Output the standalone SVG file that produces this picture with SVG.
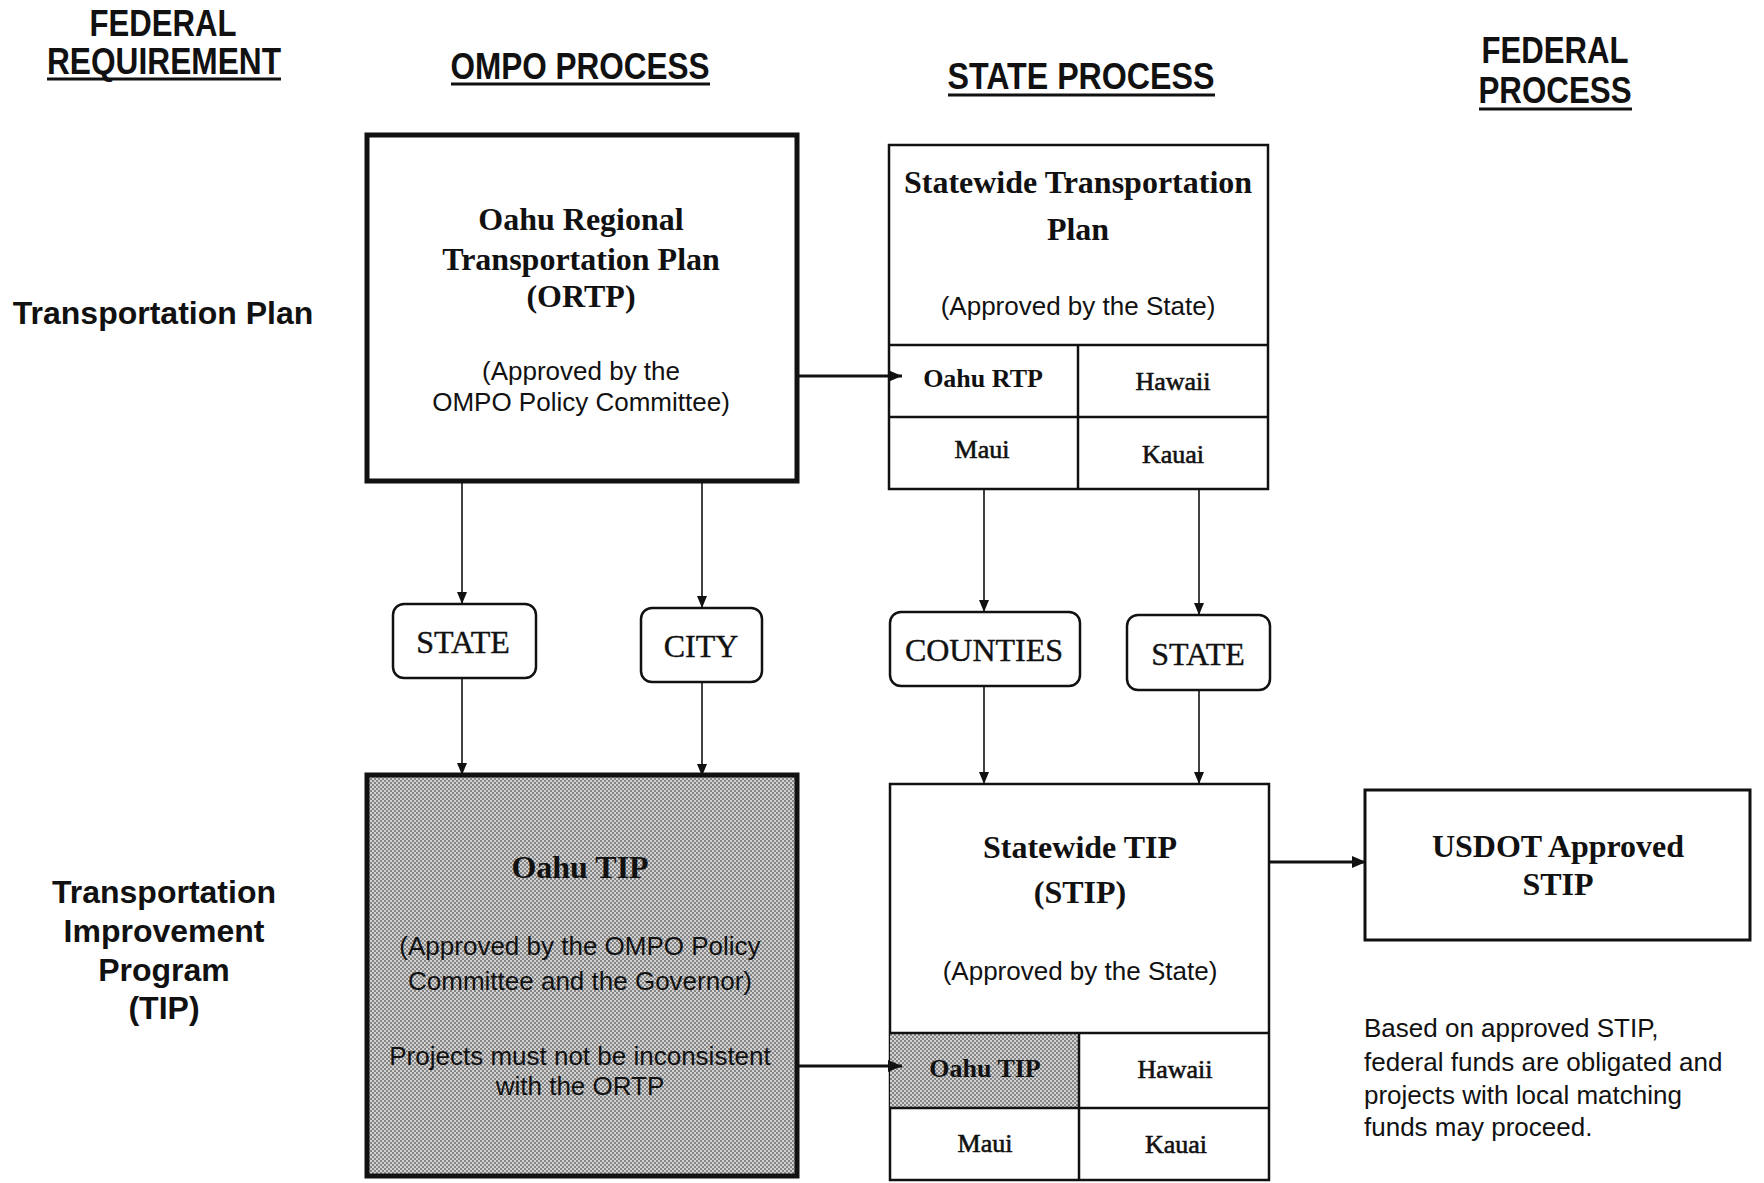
<svg xmlns="http://www.w3.org/2000/svg" width="1764" height="1183" viewBox="0 0 1764 1183">
<style>
.hdr{font-family:"Liberation Sans",Arial,sans-serif;font-weight:bold;font-size:37px;fill:#111;text-anchor:middle}
.ul{stroke:#111;stroke-width:3}
.lbl{font-family:"Liberation Sans",Arial,sans-serif;font-weight:bold;font-size:32px;fill:#111;text-anchor:middle}
.ttl{font-family:"Liberation Serif","Times New Roman",serif;font-weight:bold;font-size:32px;fill:#111;text-anchor:middle}
.cell{font-family:"Liberation Serif","Times New Roman",serif;font-size:26px;fill:#111;stroke:#111;stroke-width:0.6;text-anchor:middle}
.cellb{font-family:"Liberation Serif","Times New Roman",serif;font-weight:bold;font-size:26px;fill:#111;text-anchor:middle}
.sub{font-family:"Liberation Sans",Arial,sans-serif;font-size:26px;fill:#111;text-anchor:middle}
.note{font-family:"Liberation Sans",Arial,sans-serif;font-size:26px;fill:#111}
.rnd{font-family:"Liberation Serif","Times New Roman",serif;font-size:32px;fill:#111;stroke:#111;stroke-width:0.4;text-anchor:middle}
.thick{fill:#fff;stroke:#111;stroke-width:5}
.box{fill:#fff;stroke:#111;stroke-width:2.5}
.div{stroke:#111;stroke-width:2.5;fill:none}
.pill{fill:#fff;stroke:#111;stroke-width:2.5}
.c{stroke:#111;stroke-width:1.6;fill:none}
.ct{stroke:#111;stroke-width:3;fill:none}
</style>
<defs>
<pattern id="halftone" width="4" height="4" patternUnits="userSpaceOnUse">
<rect width="4" height="4" fill="#d2d2d2"/>
<rect width="2" height="2" fill="#858585"/>
<rect x="2" y="2" width="2" height="2" fill="#858585"/>
</pattern>
<marker id="ah" markerUnits="userSpaceOnUse" markerWidth="12" markerHeight="10" refX="12" refY="5" orient="auto">
<path d="M0,0 L12,5 L0,10 z" fill="#111"/>
</marker>
<marker id="ahb" markerUnits="userSpaceOnUse" markerWidth="14" markerHeight="12" refX="14" refY="6" orient="auto">
<path d="M0,0 L14,6 L0,12 z" fill="#111"/>
</marker>
</defs>
<rect width="1764" height="1183" fill="#fff"/>

<g id="headers">
<text class="hdr" x="163" y="36" textLength="147" lengthAdjust="spacingAndGlyphs">FEDERAL</text>
<text class="hdr" x="164" y="74" textLength="234" lengthAdjust="spacingAndGlyphs">REQUIREMENT</text>
<line class="ul" x1="47" y1="79" x2="281" y2="79"/>
<text class="hdr" x="580" y="79" textLength="259" lengthAdjust="spacingAndGlyphs">OMPO PROCESS</text>
<line class="ul" x1="451" y1="84" x2="710" y2="84"/>
<text class="hdr" x="1081" y="89" textLength="267" lengthAdjust="spacingAndGlyphs">STATE PROCESS</text>
<line class="ul" x1="948" y1="95" x2="1215" y2="95"/>
<text class="hdr" x="1555" y="63" textLength="147" lengthAdjust="spacingAndGlyphs">FEDERAL</text>
<text class="hdr" x="1555" y="103" textLength="153" lengthAdjust="spacingAndGlyphs">PROCESS</text>
<line class="ul" x1="1479" y1="109" x2="1632" y2="109"/>
</g>

<g id="row-labels">
<text class="lbl" x="163" y="324">Transportation Plan</text>
<text class="lbl" x="164" y="903">Transportation</text>
<text class="lbl" x="164" y="942">Improvement</text>
<text class="lbl" x="164" y="981">Program</text>
<text class="lbl" x="164" y="1019">(TIP)</text>
</g>

<g id="ortp">
<rect class="thick" x="367" y="135" width="430" height="346"/>
<text class="ttl" x="581" y="230">Oahu Regional</text>
<text class="ttl" x="581" y="270">Transportation Plan</text>
<text class="ttl" x="581" y="307">(ORTP)</text>
<text class="sub" x="581" y="380">(Approved by the</text>
<text class="sub" x="581" y="411">OMPO Policy Committee)</text>
</g>

<g id="stp">
<rect class="box" x="889" y="145" width="379" height="344"/>
<line class="div" x1="889" y1="345" x2="1268" y2="345"/>
<line class="div" x1="889" y1="417" x2="1268" y2="417"/>
<line class="div" x1="1078" y1="345" x2="1078" y2="489"/>
<text class="ttl" x="1078" y="193">Statewide Transportation</text>
<text class="ttl" x="1078" y="240">Plan</text>
<text class="sub" x="1078" y="315">(Approved by the State)</text>
<text class="cellb" x="983" y="387">Oahu RTP</text>
<text class="cell" x="1173" y="390">Hawaii</text>
<text class="cell" x="982" y="458">Maui</text>
<text class="cell" x="1173" y="463">Kauai</text>
</g>

<g id="state-left">
<rect class="pill" x="393" y="604" width="143" height="74" rx="11"/>
<text class="rnd" x="463" y="653">STATE</text>
</g>
<g id="city">
<rect class="pill" x="641" y="608" width="121" height="74" rx="11"/>
<text class="rnd" x="701" y="657">CITY</text>
</g>
<g id="counties">
<rect class="pill" x="890" y="612" width="190" height="74" rx="11"/>
<text class="rnd" x="984" y="661">COUNTIES</text>
</g>
<g id="state-right">
<rect class="pill" x="1127" y="615" width="143" height="75" rx="11"/>
<text class="rnd" x="1198" y="665">STATE</text>
</g>

<g id="oahu-tip">
<rect x="367" y="775" width="430" height="401" fill="url(#halftone)" stroke="#111" stroke-width="5"/>
<text class="ttl" x="580" y="878">Oahu TIP</text>
<text class="sub" x="580" y="955">(Approved by the OMPO Policy</text>
<text class="sub" x="580" y="990">Committee and the Governor)</text>
<text class="sub" x="580" y="1065">Projects must not be inconsistent</text>
<text class="sub" x="580" y="1095">with the ORTP</text>
</g>

<g id="stip">
<rect class="box" x="890" y="784" width="379" height="396"/>
<rect x="890" y="1033" width="189" height="75" fill="url(#halftone)"/>
<line class="div" x1="890" y1="1033" x2="1269" y2="1033"/>
<line class="div" x1="890" y1="1108" x2="1269" y2="1108"/>
<line class="div" x1="1079" y1="1033" x2="1079" y2="1180"/>
<text class="ttl" x="1080" y="858">Statewide TIP</text>
<text class="ttl" x="1080" y="903">(STIP)</text>
<text class="sub" x="1080" y="980">(Approved by the State)</text>
<text class="cellb" x="985" y="1077">Oahu TIP</text>
<text class="cell" x="1175" y="1078">Hawaii</text>
<text class="cell" x="985" y="1152">Maui</text>
<text class="cell" x="1176" y="1153">Kauai</text>
</g>

<g id="usdot">
<rect x="1365" y="790" width="385" height="150" fill="#fff" stroke="#111" stroke-width="3"/>
<text class="ttl" x="1558" y="857">USDOT Approved</text>
<text class="ttl" x="1558" y="895">STIP</text>
</g>

<g id="note">
<text class="note" x="1364" y="1037">Based on approved STIP,</text>
<text class="note" x="1364" y="1071">federal funds are obligated and</text>
<text class="note" x="1364" y="1104">projects with local matching</text>
<text class="note" x="1364" y="1136">funds may proceed.</text>
</g>

<g id="connectors">
<line class="ct" x1="797" y1="376" x2="902" y2="376" marker-end="url(#ahb)"/>
<line class="ct" x1="797" y1="1066" x2="902" y2="1066" marker-end="url(#ahb)"/>
<line class="ct" x1="1269" y1="862" x2="1366" y2="862" marker-end="url(#ahb)"/>
<line class="c" x1="462" y1="481" x2="462" y2="604" marker-end="url(#ah)"/>
<line class="c" x1="462" y1="678" x2="462" y2="775" marker-end="url(#ah)"/>
<line class="c" x1="702" y1="481" x2="702" y2="608" marker-end="url(#ah)"/>
<line class="c" x1="702" y1="682" x2="702" y2="776" marker-end="url(#ah)"/>
<line class="c" x1="984" y1="489" x2="984" y2="612" marker-end="url(#ah)"/>
<line class="c" x1="984" y1="686" x2="984" y2="784" marker-end="url(#ah)"/>
<line class="c" x1="1199" y1="489" x2="1199" y2="615" marker-end="url(#ah)"/>
<line class="c" x1="1199" y1="690" x2="1199" y2="784" marker-end="url(#ah)"/>
</g>
</svg>
